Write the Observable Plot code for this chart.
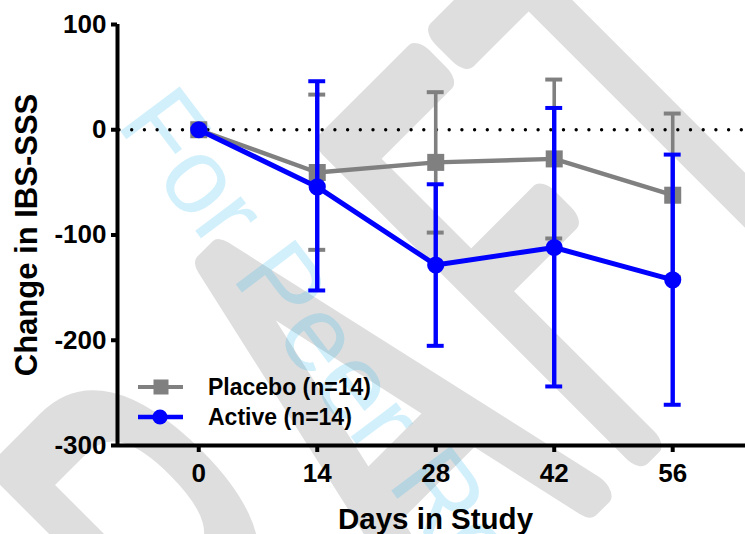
<!DOCTYPE html>
<html>
<head>
<meta charset="utf-8">
<script src="https://cdn.jsdelivr.net/npm/d3@7"></script>
<script src="https://cdn.jsdelivr.net/npm/@observablehq/plot@0.6"></script>
<style>
  html, body { margin: 0; padding: 0; background: #fff; }
  #wrap { position: relative; width: 745px; height: 534px; overflow: hidden; font-family: "Liberation Sans", Arial, Helvetica, sans-serif; }
  #wrap > * { position: absolute; left: 0; top: 0; }
</style>
</head>
<body>
<div id="wrap">
  <svg id="wm" width="745" height="534"></svg>
  <div id="chart"></div>
  <svg id="legend" width="745" height="534"></svg>
</div>
<script>
// ---- data ----
const days = [0, 14, 28, 42, 56];
const placeboMean = [0, -40.6, -31.0, -27.7, -62.2];
const placeboLow  = [0, -114.1, -97.7, -103.3, -139.8];
const placeboHigh = [0, 33.4, 35.7, 47.7, 15.4];
const activeMean  = [0, -54.3, -128.5, -111.9, -142.6];
const activeLow   = [0, -152.7, -205.3, -243.9, -261.3];
const activeHigh  = [0, 46.1, -51.8, 20.7, -23.6];
const xTicks = [0, 14, 28, 42, 56];
const yTicks = [100, 0, -100, -200, -300];
const seriesNames = ["Placebo (n=14)", "Active (n=14)"];
const xTitle = "Days in Study";
const yTitle = "Change in IBS-SSS";

const GRAY = "#808080", BLUE = "#0000ff";
const FONT = "'Liberation Sans', Arial, Helvetica, sans-serif";
const xDomain = [-9.6, 64.6];
const yDomain = [-300, 100];
const capHalf = 1.0; // half width of error-bar caps, in days

const rows = (mean, lo, hi) => days.map((d, i) => ({day: d, mean: mean[i], lo: lo[i], hi: hi[i]}));
const placebo = rows(placeboMean, placeboLow, placeboHigh);
const active = rows(activeMean, activeLow, activeHigh);
const withErr = (arr) => arr.filter(d => d.lo !== d.hi);

function errorMarks(data, color, stemW, capW) {
  const e = withErr(data);
  return [
    Plot.ruleX(e, {x: "day", y1: "lo", y2: "hi", stroke: color, strokeWidth: stemW}),
    Plot.ruleY(e, {y: "hi", x1: d => d.day - capHalf, x2: d => d.day + capHalf, stroke: color, strokeWidth: capW}),
    Plot.ruleY(e, {y: "lo", x1: d => d.day - capHalf, x2: d => d.day + capHalf, stroke: color, strokeWidth: capW})
  ];
}

const chart = Plot.plot({
  width: 745,
  height: 534,
  marginLeft: 117,
  marginRight: 0,
  marginTop: 24,
  marginBottom: 89,
  style: {background: "transparent", fontFamily: FONT, fontWeight: "bold", color: "#000", overflow: "visible"},
  x: {domain: xDomain},
  y: {domain: yDomain},
  marks: [
    Plot.ruleY([0], {stroke: "#000", strokeWidth: 3.4, strokeDasharray: "0 12.7", strokeDashoffset: -2, strokeLinecap: "round"}),
    ...errorMarks(placebo, GRAY, 3.6, 4),
    Plot.line(placebo, {x: "day", y: "mean", stroke: GRAY, strokeWidth: 4.4}),
    Plot.dot(placebo, {x: "day", y: "mean", symbol: "square", r: 9.6, fill: GRAY, stroke: null}),
    ...errorMarks(active, BLUE, 4.4, 4),
    Plot.line(active, {x: "day", y: "mean", stroke: BLUE, strokeWidth: 5}),
    Plot.dot(active, {x: "day", y: "mean", symbol: "circle", r: 8.6, fill: BLUE, stroke: null}),
    Plot.ruleX([xDomain[0]], {stroke: "#000", strokeWidth: 4}),
    Plot.ruleY([yDomain[0]], {stroke: "#000", strokeWidth: 4}),
    Plot.axisY({ticks: yTicks, tickSize: 6, tickPadding: 5, fontSize: 26, strokeWidth: 4, label: null,
                tickFormat: d => d < 0 ? "-" + (-d) : String(d)}),
    Plot.axisX({ticks: xTicks, tickSize: 7, tickPadding: 11, fontSize: 26, strokeWidth: 4, label: null,
                tickFormat: d => String(d)}),
    Plot.text([yTitle], {text: d => d, frameAnchor: "left", rotate: -90, dx: -90, fontSize: 31,
                         fontWeight: "bold", textAnchor: "middle", lineAnchor: "middle"}),
    Plot.text([xTitle], {text: d => d, frameAnchor: "bottom", dx: 4, dy: 73.6, fontSize: 29.5,
                         fontWeight: "bold", textAnchor: "middle", lineAnchor: "middle"})
  ]
});
document.getElementById("chart").appendChild(chart);

// ---- legend ----
const lg = d3.select("#legend");
const legendItems = [
  {name: seriesNames[0], color: GRAY, symbol: "square", cy: 387, lw: 4},
  {name: seriesNames[1], color: BLUE, symbol: "circle", cy: 417, lw: 4.6}
];
legendItems.forEach(it => {
  lg.append("line").attr("x1", 138).attr("x2", 183).attr("y1", it.cy).attr("y2", it.cy)
    .attr("stroke", it.color).attr("stroke-width", it.lw);
  if (it.symbol === "square") {
    lg.append("rect").attr("x", 161 - 7.5).attr("y", it.cy - 7.5).attr("width", 15).attr("height", 15).attr("fill", it.color);
  } else {
    lg.append("circle").attr("cx", 160).attr("cy", it.cy).attr("r", 7.6).attr("fill", it.color);
  }
  lg.append("text").attr("x", 208).attr("y", it.cy + 7.8).text(it.name)
    .attr("font-family", FONT).attr("font-weight", "bold").attr("font-size", 23).attr("fill", "#000");
});

// ---- watermark (background decoration) ----
function fontWidth(font) {
  const c = document.createElement("canvas").getContext("2d");
  c.font = font;
  return c.measureText("DRAFT mmmWWiil For Peer").width;
}
let wmFamily = "'DejaVu Sans', sans-serif", wmWeight = 400, wmStroke = 5;
const base = fontWidth("72px monospace");
const lightFam = ["DejaVu Sans ExtraLight", "DejaVu Sans Light"].find(f => Math.abs(fontWidth(`72px '${f}', monospace`) - base) > 0.5);
if (lightFam) {
  wmFamily = `'${lightFam}', 'DejaVu Sans', sans-serif`; wmStroke = 22;
} else if (Math.abs(fontWidth("200 72px 'DejaVu Sans'") - fontWidth("400 72px 'DejaVu Sans'")) > 0.5) {
  wmWeight = 200; wmStroke = 22;
}
const wm = d3.select("#wm");
wm.append("text").text("DRAFT")
  .attr("transform", "translate(90,995) rotate(-45) scale(1,1.7)")
  .attr("font-family", wmFamily).attr("font-weight", wmWeight).attr("font-size", 345)
  .attr("fill", "#dedede").attr("stroke", "#dedede").attr("stroke-width", wmStroke).attr("stroke-linejoin", "round");
wm.append("text").text("For Peer Review")
  .attr("transform", "translate(115,124) rotate(53)")
  .attr("font-family", FONT).attr("font-size", 108)
  .attr("fill", "#00aeef").attr("fill-opacity", 0.18);
</script>
</body>
</html>
